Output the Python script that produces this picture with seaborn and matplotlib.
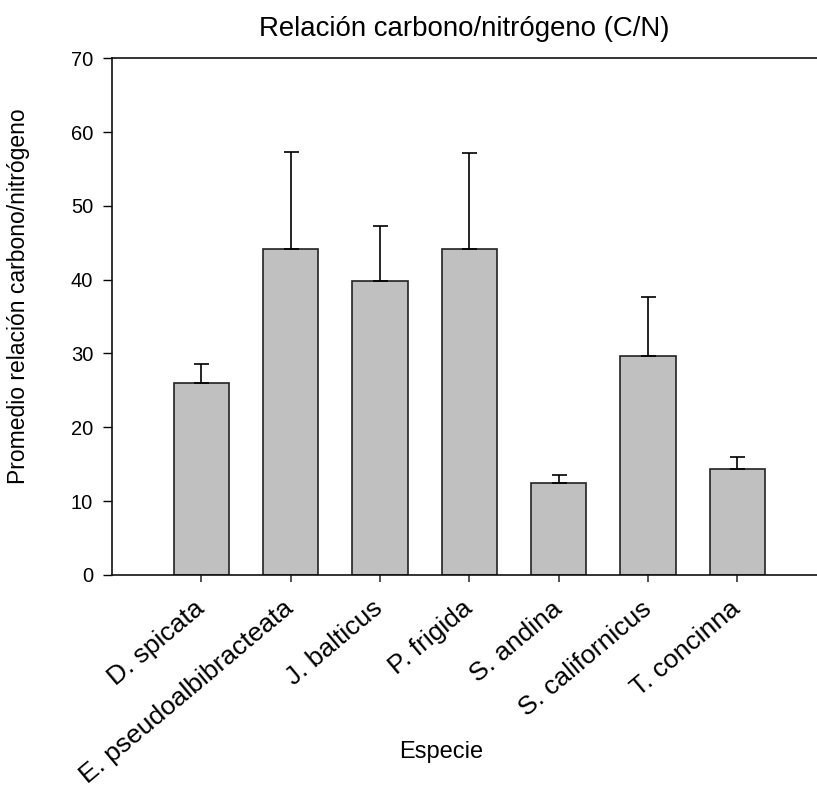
import matplotlib
matplotlib.use("Agg")
import matplotlib.pyplot as plt
import seaborn as sns
import pandas as pd
import numpy as np

especies = ["D. spicata", "E. pseudoalbibracteata", "J. balticus", "P. frigida",
            "S. andina", "S. californicus", "T. concinna"]
promedio_cn = [26.0, 44.1, 39.8, 44.1, 12.5, 29.7, 14.3]
error_sup = [2.6, 13.2, 7.5, 13.1, 1.0, 7.9, 1.7]

sns.set_theme(style="white")
plt.rcParams["font.family"] = ["Liberation Sans", "DejaVu Sans"]
plt.rcParams["text.color"] = "black"
plt.rcParams["axes.labelcolor"] = "black"
plt.rcParams["xtick.color"] = "black"
plt.rcParams["ytick.color"] = "black"

df = pd.DataFrame({"Especie": especies, "CN": promedio_cn, "err": error_sup})

fig = plt.figure(figsize=(8.17, 7.97), dpi=100)
ax = fig.add_axes([0.137, 0.2786, 1.012 - 0.137, 0.927 - 0.2786])

sns.barplot(data=df, x="Especie", y="CN", color="#c0c0c0", saturation=1,
            width=0.62, edgecolor="#222222", linewidth=1.2, errorbar=None, ax=ax)

pos = np.arange(len(especies))
ax.errorbar(pos, df["CN"], yerr=[np.zeros(len(especies)), df["err"]],
            fmt="none", ecolor="black", elinewidth=1.2, capsize=5.4,
            capthick=1.2, zorder=1)

ax.set_xlim(-1, 7)
ax.set_ylim(0, 70)
ax.set_yticks(range(0, 71, 10))
ax.set_xticks(pos)
ax.set_xticklabels(especies, rotation=40, ha="right", va="center",
                   rotation_mode="anchor", fontsize=19)
ax.tick_params(axis="y", labelsize=14.5, length=6.5, width=1, direction="out",
               left=True, pad=7)
ax.tick_params(axis="x", length=5, width=1.2, direction="out", bottom=True,
               color="#333333", pad=17)

for side in ["left", "bottom", "top", "right"]:
    ax.spines[side].set_color("#111111")
    ax.spines[side].set_linewidth(1.2)

ax.set_xlabel("Especie", fontsize=17)
ax.xaxis.set_label_coords((441 - 112) / 715, (575 - 741) / 517)
ax.set_ylabel("Promedio relación carbono/nitrógeno", fontsize=16.5)
ax.yaxis.set_label_coords((30 - 112) / 715, (575 - 296) / 517)
ax.set_title("Relación carbono/nitrógeno (C/N)", fontsize=19.9, pad=16)
ax.title.set_position(((464 - 112) / 715, 1.0))

fig.savefig("out.png", dpi=100, facecolor="white")
